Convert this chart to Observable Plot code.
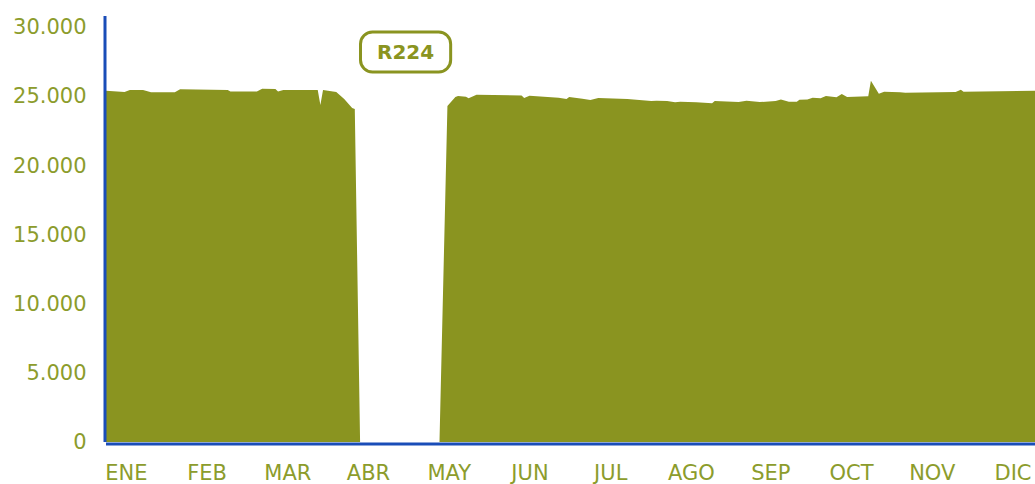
<!DOCTYPE html>
<html>
<head>
<meta charset="utf-8">
<script src="https://cdn.jsdelivr.net/npm/d3@7"></script>
<script src="https://cdn.jsdelivr.net/npm/@observablehq/plot@0.6"></script>
<style>
  html, body { margin: 0; padding: 0; background: #ffffff; }
  #chart { width: 1035px; height: 484px; overflow: hidden; }
</style>
</head>
<body>
<div id="chart"></div>
<script>
// Day index along the year (visible range) and daily traffic values
const days = [0, 7, 9, 14, 17, 26, 28, 46, 47, 57, 59, 64, 65, 67, 79, 80, 81, 82, 87, 90, 93, 94, 96,
  126, 129, 132, 133, 136, 137, 140, 157, 158, 160, 171, 174, 175, 180, 183, 186, 197, 206, 208, 212,
  215, 217, 223, 229, 230, 239, 242, 247, 253, 255, 258, 261, 262, 265, 267, 270, 272, 276, 278, 280,
  288, 289, 292, 294, 300, 302, 321, 323, 324, 351];
const values = [25400, 25300, 25450, 25450, 25280, 25280, 25500, 25450, 25350, 25350, 25540, 25520, 25350, 25450, 25450, 25450, 24360, 25450, 25300, 24800, 24150, 24070, 0,
  0, 24290, 24940, 25010, 24960, 24850, 25110, 25060, 24870, 25030, 24890, 24800, 24940, 24820, 24720, 24870, 24800, 24650, 24670, 24650,
  24560, 24600, 24560, 24490, 24650, 24580, 24670, 24580, 24650, 24770, 24600, 24600, 24750, 24770, 24890, 24850, 25010, 24920, 25160, 24940,
  24990, 26120, 25180, 25320, 25280, 25250, 25300, 25470, 25320, 25400];

const months = ["ENE", "FEB", "MAR", "ABR", "MAY", "JUN", "JUL", "AGO", "SEP", "OCT", "NOV", "DIC"];
const monthTicks = [7.5, 38, 68.5, 99, 129.5, 160, 190.5, 221, 251, 281.5, 312, 342.5];
const yTicks = [0, 5000, 10000, 15000, 20000, 25000, 30000];

const annotDays = [113];
const annotValues = [28190];
const annotLabels = ["R224"];

const olive = "#8a9420";
const textOlive = "#8c9c2c";
const blue = "#1a4db8";

const data = days.map((d, i) => ({day: d, value: values[i]}));
const annots = annotDays.map((d, i) => ({day: d, value: annotValues[i], label: annotLabels[i]}));

const locale = d3.formatLocale({decimal: ",", thousands: ".", grouping: [3], currency: ["", "€"]});
const fmt = locale.format(",");

const chart = Plot.plot({
  width: 1035,
  height: 484,
  marginLeft: 106,
  marginRight: 0,
  marginTop: 16,
  marginBottom: 42,
  style: {
    fontFamily: "'DejaVu Sans', sans-serif",
    fontSize: "21px",
    color: textOlive,
    background: "#ffffff",
    overflow: "visible"
  },
  x: {
    domain: [0, 351],
    ticks: monthTicks,
    tickFormat: d => months[monthTicks.indexOf(d)],
    tickSize: 0,
    tickPadding: 23,
    label: null
  },
  y: {
    domain: [0, 30800],
    ticks: yTicks,
    tickFormat: d => fmt(d),
    tickSize: 0,
    tickPadding: 20,
    label: null
  },
  marks: [
    Plot.areaY(data, {x: "day", y: "value", fill: olive}),
    Plot.ruleX([0], {stroke: blue, strokeWidth: 3, dx: -1.5}),
    Plot.ruleY([0], {stroke: blue, strokeWidth: 3, dy: 1.5}),
    Plot.text(annots, {x: "day", y: "value", text: "label", fill: olive, fontSize: 20, fontWeight: "bold"})
  ]
});

document.getElementById("chart").appendChild(chart);

// Rounded box around the annotation label
const svgEl = chart.tagName.toLowerCase() === "svg" ? chart : chart.querySelector("svg");
d3.select(svgEl).selectAll("text").each(function() {
  if (annotLabels.includes(this.textContent)) {
    const bb = this.getBBox();
    const padX = 16.5, padY = 9;
    const r = d3.select(this.parentNode).insert("rect", () => this)
      .attr("x", bb.x - padX)
      .attr("y", bb.y - padY + 1)
      .attr("width", bb.width + 2 * padX)
      .attr("height", bb.height + 2 * padY - 2)
      .attr("rx", 12)
      .attr("fill", "#ffffff")
      .attr("stroke", olive)
      .attr("stroke-width", 3);
    const t = this.getAttribute("transform");
    if (t) r.attr("transform", t);
  }
});
</script>
</body>
</html>
